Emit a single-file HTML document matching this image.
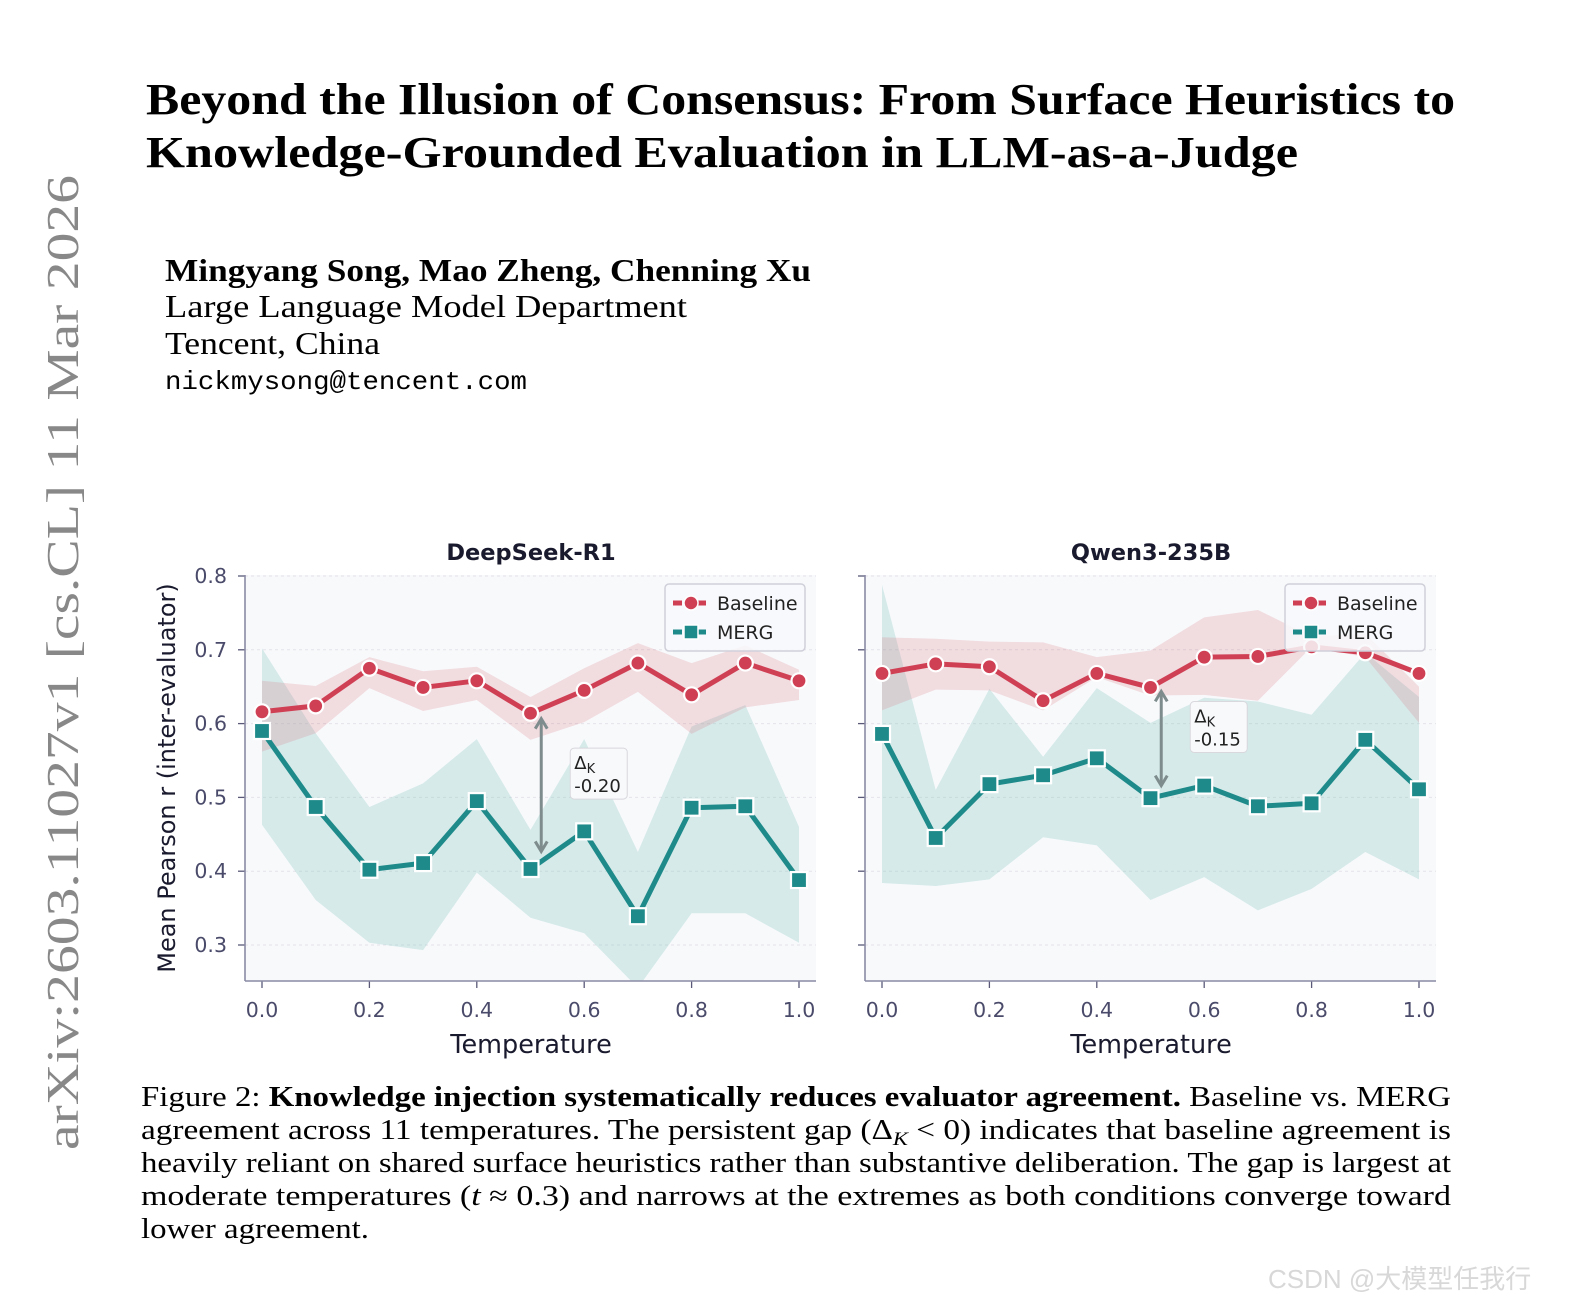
<!DOCTYPE html>
<html><head><meta charset="utf-8"><style>
html,body{margin:0;padding:0;background:#fff;}
svg{display:block;}
.serif{font-family:"Liberation Serif",serif;}
.sans{font-family:"DejaVu Sans","Liberation Sans",sans-serif;}
</style></head><body>
<svg id="page" width="1578" height="1313" viewBox="0 0 1578 1313">
<text class="serif" x="146" y="114" font-size="44" font-weight="bold" fill="#000" textLength="1309" lengthAdjust="spacingAndGlyphs">Beyond the Illusion of Consensus: From Surface Heuristics to</text>
<text class="serif" x="146" y="167" font-size="44" font-weight="bold" fill="#000" textLength="1152" lengthAdjust="spacingAndGlyphs">Knowledge-Grounded Evaluation in LLM-as-a-Judge</text>
<text class="serif" x="165" y="281" font-size="32" font-weight="bold" textLength="646" lengthAdjust="spacingAndGlyphs">Mingyang Song, Mao Zheng, Chenning Xu</text>
<text class="serif" x="165" y="317" font-size="32" textLength="522" lengthAdjust="spacingAndGlyphs">Large Language Model Department</text>
<text class="serif" x="165" y="354" font-size="32" textLength="215" lengthAdjust="spacingAndGlyphs">Tencent, China</text>
<text font-family="Liberation Mono,monospace" x="165" y="389" font-size="26" textLength="362" lengthAdjust="spacingAndGlyphs">nickmysong@tencent.com</text>
<text class="serif" transform="translate(78,1150) rotate(-90)" font-size="46" fill="#888" textLength="975" lengthAdjust="spacingAndGlyphs">arXiv:2603.11027v1  [cs.CL]  11 Mar 2026</text>
<g id="charts"></g>
<g class="serif" font-size="28" fill="#000">
<text x="141" y="1106" textLength="1310" lengthAdjust="spacingAndGlyphs">Figure 2: <tspan font-weight="bold">Knowledge injection systematically reduces evaluator agreement.</tspan> Baseline vs. MERG</text>
<text x="141" y="1139" textLength="1310" lengthAdjust="spacingAndGlyphs">agreement across 11 temperatures. The persistent gap (Δ<tspan font-style="italic" font-size="19" dy="6">K</tspan><tspan dy="-6"> &lt; 0) indicates that baseline agreement is</tspan></text>
<text x="141" y="1172" textLength="1310" lengthAdjust="spacingAndGlyphs">heavily reliant on shared surface heuristics rather than substantive deliberation. The gap is largest at</text>
<text x="141" y="1205" textLength="1310" lengthAdjust="spacingAndGlyphs">moderate temperatures (<tspan font-style="italic">t</tspan> ≈ 0.3) and narrows at the extremes as both conditions converge toward</text>
<text x="141" y="1238" textLength="228" lengthAdjust="spacingAndGlyphs">lower agreement.</text>
</g>
<text x="1268" y="1288" font-family="Liberation Sans,Noto Sans CJK SC,sans-serif" font-size="26" fill="#d8d8d8">CSDN @大模型任我行</text>
</svg>
<script>
const temps=[0,0.1,0.2,0.3,0.4,0.5,0.6,0.7,0.8,0.9,1.0];
const yTicks=[0.3,0.4,0.5,0.6,0.7,0.8];
const xTicks=[0,0.2,0.4,0.6,0.8,1.0];
const dsBase=[0.616,0.624,0.675,0.649,0.658,0.614,0.645,0.682,0.639,0.682,0.658];
const dsBaseHi=[0.658,0.651,0.690,0.671,0.677,0.636,0.675,0.709,0.682,0.706,0.673];
const dsBaseLo=[0.562,0.587,0.648,0.617,0.632,0.578,0.602,0.643,0.586,0.622,0.632];
const dsMerg=[0.590,0.487,0.402,0.411,0.495,0.403,0.454,0.339,0.486,0.488,0.388];
const dsMergHi=[0.702,0.587,0.487,0.519,0.579,0.456,0.579,0.426,0.596,0.625,0.460];
const dsMergLo=[0.463,0.361,0.303,0.293,0.398,0.337,0.316,0.242,0.343,0.343,0.303];
const qwBase=[0.668,0.681,0.677,0.631,0.668,0.649,0.690,0.691,0.704,0.696,0.668];
const qwBaseHi=[0.717,0.715,0.711,0.710,0.690,0.699,0.744,0.754,0.718,0.722,0.650];
const qwBaseLo=[0.618,0.646,0.645,0.618,0.663,0.638,0.639,0.631,0.704,0.690,0.601];
const qwMerg=[0.586,0.445,0.518,0.530,0.553,0.499,0.516,0.488,0.492,0.578,0.511];
const qwMergHi=[0.788,0.510,0.647,0.555,0.648,0.601,0.635,0.630,0.612,0.696,0.636];
const qwMergLo=[0.384,0.380,0.389,0.446,0.435,0.361,0.392,0.347,0.376,0.426,0.389];
const deltaTemp=[0.52,0.52];
const deltaLabels=["-0.20","-0.15"];
const titles=["DeepSeek-R1","Qwen3-235B"];

const NS="http://www.w3.org/2000/svg";
const root=document.getElementById('charts');
function mk(tag,attrs,parent){const e=document.createElementNS(NS,tag);for(const k in attrs)e.setAttribute(k,attrs[k]);parent.appendChild(e);return e;}
const RED="#d04055",TEAL="#1f8a8a";
function panel(i,left,base,bHi,bLo,merg,mHi,mLo){
  const g=mk('g',{},root);
  
  
  const x0=left, x1=left+571, top=575, bottom=981;
  const xs=v=>left+17+v*537;
  const ys=v=>576+(0.8-v)*738;
  mk('rect',{x:x0,y:top,width:571,height:bottom-top,fill:'#f8f9fb'},g);
  yTicks.forEach(t=>{mk('line',{x1:x0,x2:x1,y1:ys(t),y2:ys(t),stroke:'#e3e3ea','stroke-dasharray':'3,3','stroke-width':1},g);
    mk('line',{x1:x0-7,x2:x0,y1:ys(t),y2:ys(t),stroke:'#5a5a78','stroke-width':1.3},g);
    if(i==0){const tx=mk('text',{x:x0-18,y:ys(t)+7,'text-anchor':'end','font-size':20.5,fill:'#4a4a6a',class:'sans'},g);tx.textContent=t.toFixed(1);
      
      }
  });
  xTicks.forEach(t=>{mk('line',{x1:xs(t),x2:xs(t),y1:bottom,y2:bottom+7,stroke:'#5a5a78','stroke-width':1.3},g);
    const tx=mk('text',{x:xs(t),y:bottom+36,'text-anchor':'middle','font-size':20.5,fill:'#4a4a6a',class:'sans'},g);tx.textContent=t.toFixed(1);
    
    });
  const cp=mk('clipPath',{id:'clip'+i},g);mk('rect',{x:x0,y:top,width:571,height:bottom-top},cp);
  const bg=mk('g',{'clip-path':'url(#clip'+i+')'},g);
  const band2=(hi,lo,col,op,name)=>{let d=temps.map((t,k)=>(k?'L':'M')+xs(t)+','+ys(hi[k])).join(' ');
    for(let k=temps.length-1;k>=0;k--)d+=' L'+xs(temps[k])+','+ys(lo[k]);
    const p=mk('path',{d:d+'Z',fill:col,'fill-opacity':op},bg);
    
    };
  band2(mHi,mLo,'#7fc4c0',0.28,'merg-band');
  band2(bHi,bLo,'#d9677a',0.2,'baseline-band');
  const line=(vals,col,name)=>{const p=mk('polyline',{points:temps.map((t,k)=>xs(t)+','+ys(vals[k])).join(' '),fill:'none',stroke:col,'stroke-width':5,'stroke-linejoin':'round'},g);
    
    };
  line(base,RED,'baseline-line');line(merg,TEAL,'merg-line');
  temps.forEach((t,k)=>{const c=mk('circle',{cx:xs(t),cy:ys(base[k]),r:7.5,fill:RED,stroke:'#fff','stroke-width':2.2},g);
    
    
    const r=mk('rect',{x:xs(t)-8,y:ys(merg[k])-8,width:16,height:16,fill:TEAL,stroke:'#fff','stroke-width':2.2},g);
    
    });
  const dx=xs(deltaTemp[i]);
  const ib=(v)=>{const k=Math.floor(v*10),f=v*10-k;return [base[k]+(base[k+1]-base[k])*f, merg[k]+(merg[k+1]-merg[k])*f];};
  const [bv,mv]=ib(deltaTemp[i]);
  const ya=ys(bv)+10, yb=ys(mv)-10;
  const ar=mk('g',{stroke:'#7f8c8d','stroke-width':3,fill:'none'},g);
  
  
  mk('line',{x1:dx,x2:dx,y1:ya,y2:yb},ar);
  mk('polyline',{points:`${dx-6},${ya+10} ${dx},${ya} ${dx+6},${ya+10}`},ar);
  mk('polyline',{points:`${dx-6},${yb-10} ${dx},${yb} ${dx+6},${yb-10}`},ar);
  const by=(ya+yb)/2-37;
  const box=mk('rect',{x:dx+29,y:by,width:57,height:51,rx:4,fill:'#f8f9fb',stroke:'#d8d8dd'},g);
  
  
  const t1=mk('text',{x:dx+33,y:by+21,'font-size':18,fill:'#222',class:'sans'},g);t1.innerHTML='Δ<tspan font-size="13" dy="4">K</tspan>';
  const t2=mk('text',{x:dx+33,y:by+44,'font-size':18,fill:'#222',class:'sans'},g);t2.textContent=deltaLabels[i];
  mk('line',{x1:x0,x2:x0,y1:top,y2:bottom,stroke:'#8a8aa5','stroke-width':1.6},g);
  mk('line',{x1:x0,x2:x1,y1:bottom,y2:bottom,stroke:'#8a8aa5','stroke-width':1.6},g);
  const tt=mk('text',{x:left+286,y:560,'text-anchor':'middle','font-size':22.5,'font-weight':'bold',fill:'#1a1a2e',class:'sans'},g);tt.textContent=titles[i];
  
  
  const xl=mk('text',{x:left+286,y:1053,'text-anchor':'middle','font-size':25.5,fill:'#1a1a2e',class:'sans'},g);xl.textContent='Temperature';
  
  
  const lg=mk('g',{},g);
  
  
  const lx=x1-151;
  mk('rect',{x:lx,y:584,width:140,height:67,rx:4,fill:'#f8f9fb','fill-opacity':0.85,stroke:'#d0d0da','stroke-width':1.5},lg);
  [[RED,'Baseline',0],[TEAL,'MERG',1]].forEach(([c,l,j])=>{const yy=603+j*29;
    mk('line',{x1:lx+8,x2:lx+44,y1:yy,y2:yy,stroke:c,'stroke-width':5,'stroke-dasharray':'9,3'},lg);
    if(j==0)mk('circle',{cx:lx+26,cy:yy,r:7,fill:c,stroke:'#fff','stroke-width':1.5},lg);
    else mk('rect',{x:lx+19,y:yy-7,width:14,height:14,fill:c,stroke:'#fff','stroke-width':1.5},lg);
    const t=mk('text',{x:lx+52,y:yy+7,'font-size':19,fill:'#222',class:'sans'},lg);t.textContent=l;});
}
panel(0,245,dsBase,dsBaseHi,dsBaseLo,dsMerg,dsMergHi,dsMergLo);
panel(1,865,qwBase,qwBaseHi,qwBaseLo,qwMerg,qwMergHi,qwMergLo);
const yl=mk('text',{transform:'translate(175,778) rotate(-90)','text-anchor':'middle','font-size':24,fill:'#1a1a2e',class:'sans'},root);
yl.textContent='Mean Pearson r (inter-evaluator)';


</script>
</body></html>
